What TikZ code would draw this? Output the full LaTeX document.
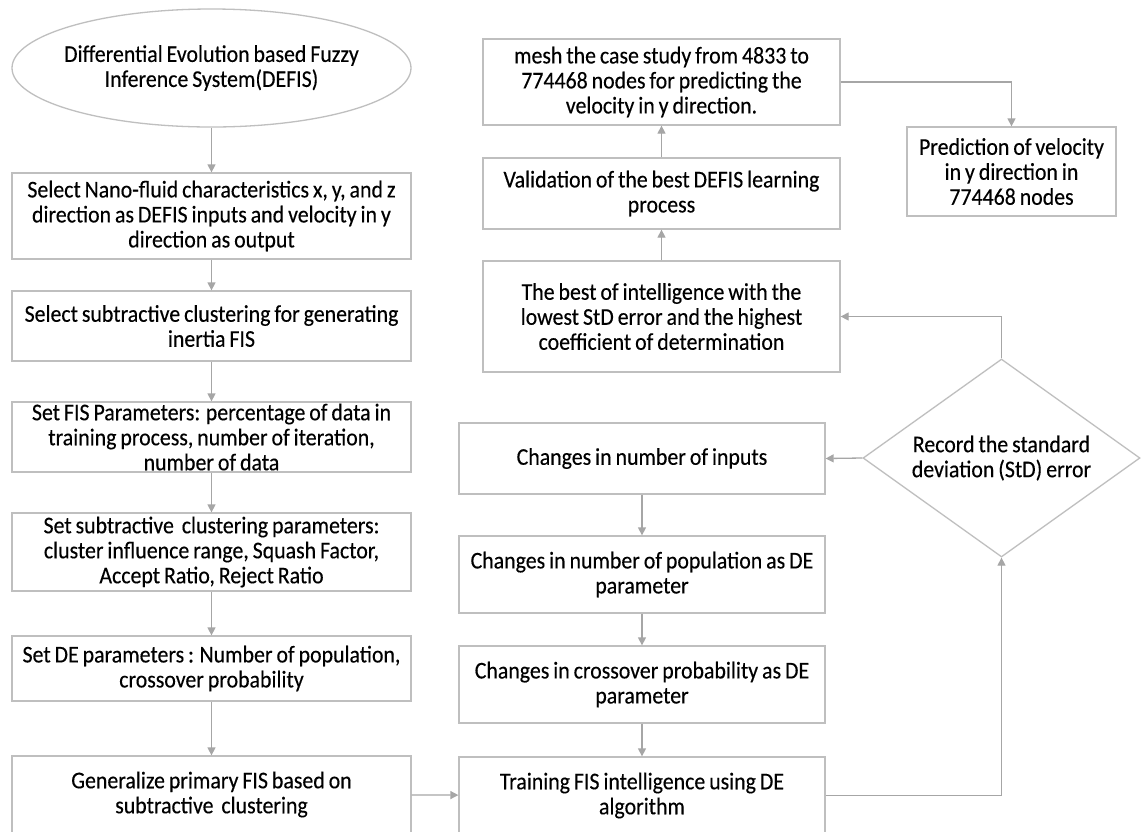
\documentclass[tikz,border=0pt]{standalone}
\usepackage{fontspec}
\setmainfont{Carlito}[WordSpace=0.8, FakeStretch=0.91, FakeBold=0.3]
\usetikzlibrary{shapes.geometric,arrows.meta}
\definecolor{boxgray}{HTML}{BFBFBF}
\definecolor{arrgray}{HTML}{A6A6A6}
\tikzset{
  txt/.style={align=center, font=\fontsize{24}{25}\selectfont, text=black},
  box/.style={txt, draw=boxgray, line width=1.3pt, rectangle, inner xsep=2pt, inner ysep=0pt},
  arr/.style={draw=arrgray, line width=1.3pt, -{Triangle[length=8pt,width=8pt]}},
}
\begin{document}
\begin{tikzpicture}[x=1pt,y=-1pt]
\useasboundingbox (0,0) rectangle (1146,831);
\fill[white] (0,0) rectangle (1146,831);
\clip (0,0) rectangle (1146,831);
% left column
\node[draw=boxgray, line width=1.3pt, ellipse, inner sep=0pt, minimum width=399pt, minimum height=118pt,
  label={[txt]center:Differential Evolution based Fuzzy\\Inference System(DEFIS)}] (e) at (211.5,68) {};
\node[box, minimum width=399pt, minimum height=86pt] (b1) at (211.5,216) {Select Nano-fluid characteristics x, y, and z\\direction as DEFIS inputs and velocity in y\\direction as output};
\node[box, minimum width=399pt, minimum height=70pt] (b2) at (211.5,326) {Select subtractive clustering for generating\\inertia FIS};
\node[box, minimum width=399pt, minimum height=70pt] (b3) at (211.5,437) {Set FIS Parameters: percentage of data in\\training process, number of iteration,\\number of data};
\node[box, minimum width=399pt, minimum height=78pt] (b4) at (211.5,552) {Set subtractive\ \ clustering parameters:\\cluster influence range, Squash Factor,\\Accept Ratio, Reject Ratio};
\node[box, minimum width=399pt, minimum height=65pt] (b5) at (211.5,668.5) {Set DE parameters : Number of population,\\crossover probability};
\node[box, minimum width=399pt, minimum height=77pt] (b6) at (211.5,794.5) {Generalize primary FIS based on\\subtractive\ \ clustering};
% middle lower
\node[box, minimum width=366pt, minimum height=71pt] (c1) at (642,458.5) {Changes in number of inputs};
\node[box, minimum width=366pt, minimum height=77pt] (c2) at (642,574.5) {Changes in number of population as DE\\parameter};
\node[box, minimum width=366pt, minimum height=77pt] (c3) at (642,684.5) {Changes in crossover probability as DE\\parameter};
\node[box, minimum width=366pt, minimum height=77pt] (c4) at (642,795.5) {Training FIS intelligence using DE\\algorithm};
% middle upper
\node[box, minimum width=357pt, minimum height=86pt] (m1) at (661.5,82) {mesh the case study from 4833 to\\774468 nodes for predicting the\\velocity in y direction.};
\node[box, minimum width=357pt, minimum height=71pt] (m2) at (661.5,193.5) {Validation of the best DEFIS learning\\process};
\node[box, minimum width=357pt, minimum height=111pt] (m3) at (661.5,316.5) {The best of intelligence with the\\lowest StD error and the highest\\coefficient of determination};
% right
\node[box, minimum width=209pt, minimum height=89pt] (p) at (1011.5,171.5) {Prediction of velocity\\in y direction in\\774468 nodes};
\node[draw=boxgray, line width=1.3pt, diamond, inner sep=0pt, minimum width=277pt, minimum height=198pt,
  label={[txt]center:Record the standard\\deviation (StD) error}] (d) at (1001.5,458) {};
% connectors
\draw[arr] (e) -- (b1);
\draw[arr] (b1) -- (b2);
\draw[arr] (b2) -- (b3);
\draw[arr] (b3) -- (b4);
\draw[arr] (b4) -- (b5);
\draw[arr] (b5) -- (b6);
\draw[arr] (b6) -- (c4);
\draw[arr] (c4.east) -| (d.south);
\draw[arr] (d.west) -- (c1.east);
\draw[arr] (c1) -- (c2);
\draw[arr] (c2) -- (c3);
\draw[arr] (c3) -- (c4);
\draw[arr] (d.north) |- (m3.east);
\draw[arr] (m3) -- (m2);
\draw[arr] (m2) -- (m1);
\draw[arr] (m1.east) -| (p.north);
\end{tikzpicture}
\end{document}
